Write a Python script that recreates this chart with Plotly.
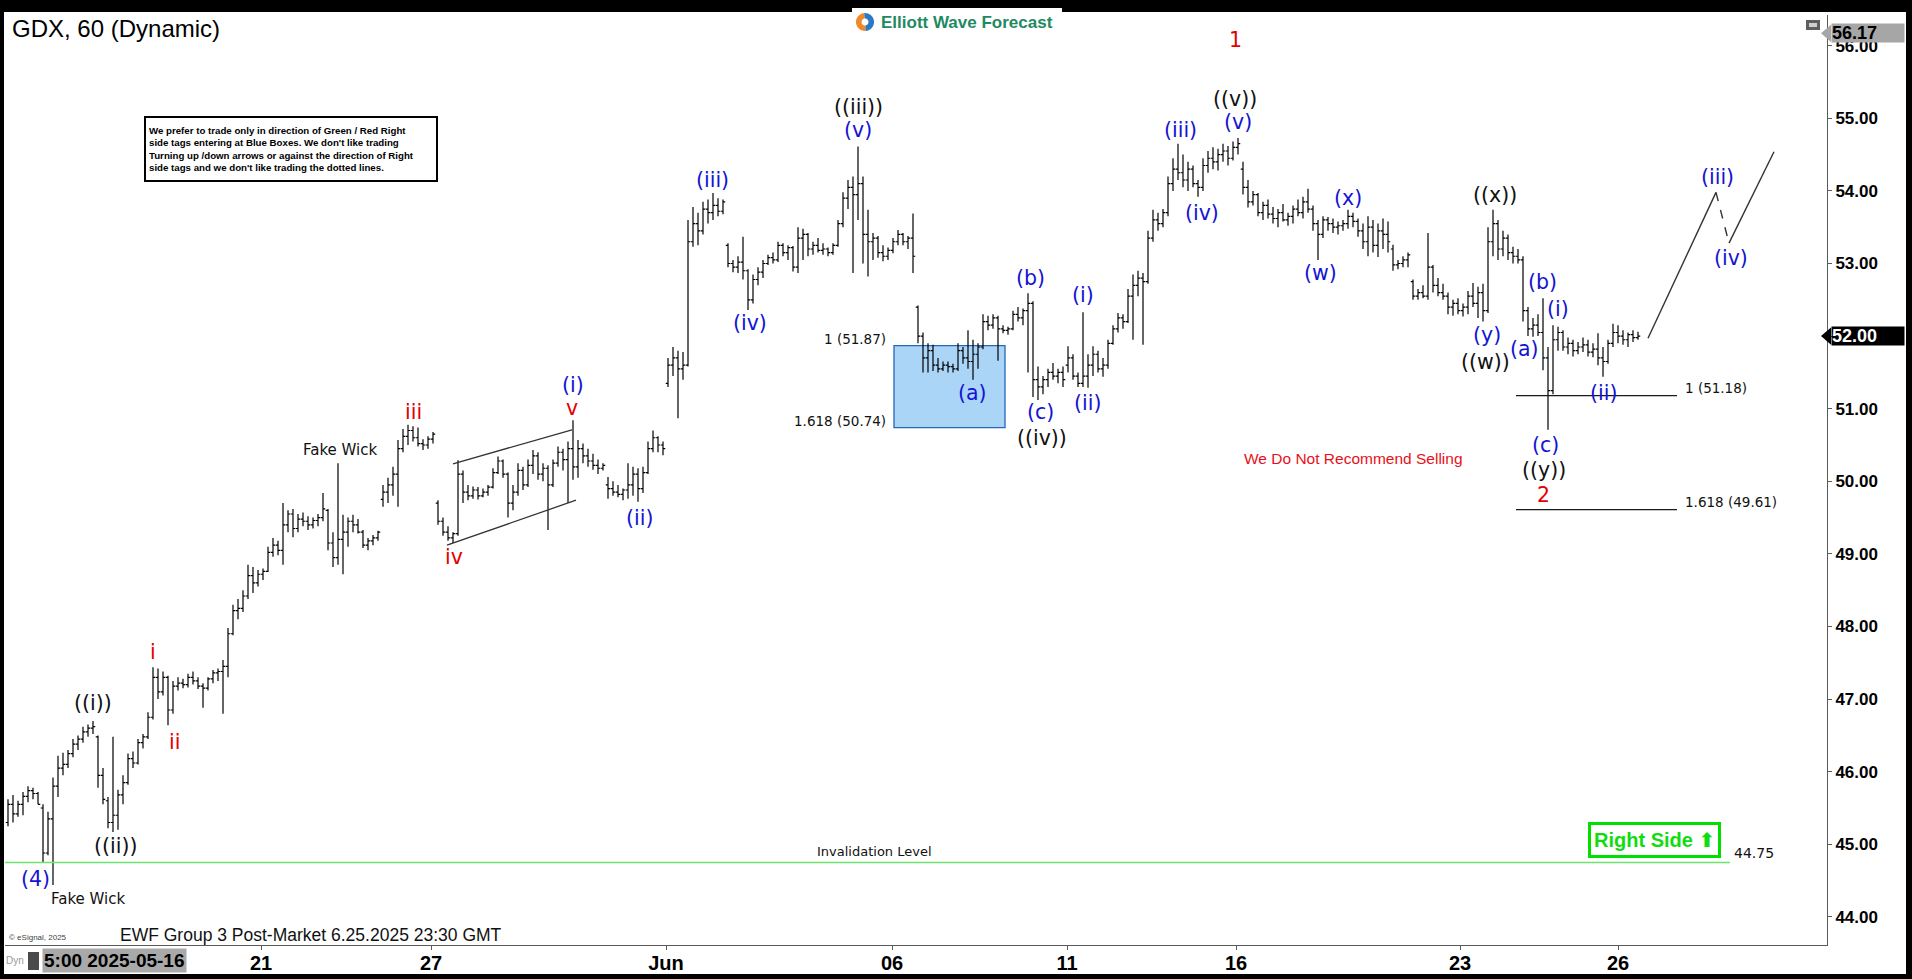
import math
import plotly.graph_objects as go

# ---------------- price data (hourly bars) ----------------
open_ = [
    45.30, 45.55, 45.42, 45.55, 45.66, 45.74, 45.70, 45.50, 44.88, 45.35,
    45.80, 46.05, 46.10, 46.25, 46.38, 46.45, 46.55, 46.60, 46.48, 45.95,
    45.60, 45.30, 45.40, 45.68, 45.85, 46.18, 46.12, 46.40, 46.48, 46.75,
    47.30, 47.10, 47.30, 46.85, 47.18, 47.22, 47.20, 47.30, 47.25, 47.18,
    47.15, 47.28, 47.36, 47.38, 47.45, 47.90, 48.22, 48.25, 48.42, 48.70,
    48.60, 48.72, 48.76, 49.02, 49.12, 49.05, 49.40, 49.55, 49.35, 49.48,
    49.45, 49.40, 49.46, 49.50, 49.60, 49.15, 48.95, 49.20, 49.30, 49.45,
    49.40, 49.30, 49.12, 49.18, 49.22, 49.75, 49.85, 49.95, 50.10, 50.45,
    50.62, 50.70, 50.60, 50.52, 50.50, 50.58, 49.70, 49.45, 49.30, 49.22,
    49.28, 50.10, 49.85, 49.80, 49.88, 49.80, 49.85, 49.92, 50.12, 50.28,
    50.10, 49.70, 49.85, 50.15, 49.95, 50.22, 50.35, 50.10, 50.18, 49.95,
    50.25, 50.40, 50.30, 50.45, 50.20, 50.45, 50.35, 50.28, 50.22, 50.18,
    49.95, 49.90, 49.85, 49.82, 49.88, 49.95, 50.10, 49.90, 50.12, 50.45,
    50.60, 50.50, 51.35, 51.60, 51.70, 51.55, 51.60, 53.30, 53.55, 53.45,
    53.75, 53.70, 53.80, 53.72, 53.25, 53.00, 52.95, 53.02, 52.90, 52.50,
    52.78, 52.88, 53.00, 53.08, 53.05, 53.25, 53.15, 53.22, 52.95, 53.35,
    53.40, 53.20, 53.25, 53.18, 53.20, 53.15, 53.25, 53.55, 53.90, 54.05,
    53.95, 54.10, 53.40, 53.30, 53.35, 53.15, 53.10, 53.18, 53.30, 53.40,
    53.30, 53.35, 52.40, 52.00, 51.70, 51.80, 51.60, 51.55, 51.60, 51.58,
    51.55, 51.80, 51.70, 51.65, 51.75, 51.85, 52.20, 52.15, 52.25, 52.10,
    52.08, 52.10, 52.30, 52.25, 52.35, 52.45, 51.40, 51.30, 51.40, 51.50,
    51.45, 51.50, 51.60, 51.70, 51.45, 51.35, 51.45, 51.60, 51.75, 51.55,
    51.60, 51.90, 52.10, 52.25, 52.20, 52.55, 52.70, 52.80, 52.75, 53.35,
    53.60, 53.55, 53.70, 54.10, 54.30, 54.25, 54.15, 54.30, 54.10, 54.05,
    54.35, 54.45, 54.40, 54.50, 54.55, 54.45, 54.60, 54.30, 54.05, 53.85,
    53.95, 53.70, 53.80, 53.68, 53.62, 53.70, 53.60, 53.65, 53.75, 53.70,
    53.85, 53.75, 53.55, 53.40, 53.60, 53.55, 53.50, 53.52, 53.55, 53.65,
    53.58, 53.45, 53.30, 53.50, 53.25, 53.45, 53.40, 53.20, 52.98, 53.00,
    53.05, 52.75, 52.55, 52.60, 52.55, 52.95, 52.70, 52.60, 52.55, 52.40,
    52.45, 52.35, 52.40, 52.55, 52.45, 52.60, 52.35, 53.30, 53.55, 53.20,
    53.35, 53.15, 53.10, 53.05, 52.35, 52.10, 52.15, 52.05, 51.70, 51.25,
    51.95, 52.05, 51.85, 51.90, 51.80, 51.85, 51.88, 51.78, 51.82, 51.70,
    51.65, 51.90, 52.05, 52.00, 51.95, 52.02, 51.98,
]
high = [
    45.62, 45.68, 45.60, 45.72, 45.80, 45.78, 45.72, 45.55, 45.45, 45.92,
    46.22, 46.26, 46.30, 46.45, 46.50, 46.62, 46.65, 46.70, 46.50, 46.05,
    45.65, 46.48, 45.75, 45.95, 46.25, 46.28, 46.45, 46.52, 46.82, 47.44,
    47.42, 47.38, 47.32, 47.25, 47.30, 47.28, 47.35, 47.38, 47.30, 47.22,
    47.30, 47.40, 47.42, 47.54, 47.98, 48.30, 48.38, 48.50, 48.85, 48.82,
    48.78, 48.80, 49.10, 49.22, 49.18, 49.70, 49.60, 49.62, 49.55, 49.57,
    49.52, 49.50, 49.55, 49.84, 49.62, 49.30, 50.25, 49.54, 49.50, 49.54,
    49.48, 49.33, 49.22, 49.26, 49.32, 49.95, 50.05, 50.20, 50.57, 50.72,
    50.78, 50.76, 50.74, 50.58, 50.62, 50.68, 49.74, 49.50, 49.38, 49.30,
    50.29, 50.15, 49.95, 49.93, 49.92, 49.90, 49.95, 50.18, 50.34, 50.30,
    50.12, 49.95, 50.25, 50.20, 50.30, 50.43, 50.40, 50.25, 50.22, 50.30,
    50.48, 50.45, 50.55, 50.84, 50.57, 50.52, 50.45, 50.38, 50.30, 50.25,
    50.06, 50.00, 49.95, 49.90, 50.25, 50.20, 50.18, 50.20, 50.55, 50.70,
    50.62, 50.55, 51.70, 51.85, 51.80, 51.78, 53.60, 53.78, 53.70, 53.85,
    53.88, 53.97, 53.90, 53.88, 53.28, 53.05, 53.10, 53.37, 52.92, 52.85,
    52.95, 53.05, 53.12, 53.15, 53.30, 53.28, 53.25, 53.24, 53.50, 53.48,
    53.42, 53.30, 53.35, 53.28, 53.22, 53.28, 53.60, 53.98, 54.15, 54.20,
    54.61, 54.20, 53.74, 53.42, 53.38, 53.25, 53.22, 53.35, 53.46, 53.42,
    53.38, 53.69, 52.42, 52.05, 51.90, 51.88, 51.70, 51.65, 51.65, 51.62,
    51.90, 51.85, 52.08, 51.95, 51.90, 52.30, 52.28, 52.30, 52.28, 52.15,
    52.13, 52.35, 52.40, 52.38, 52.59, 52.48, 51.58, 51.45, 51.55, 51.63,
    51.55, 51.58, 51.86, 51.75, 51.50, 52.33, 51.75, 51.86, 51.80, 51.70,
    51.95, 52.15, 52.32, 52.30, 52.65, 52.85, 52.90, 52.87, 53.45, 53.74,
    53.70, 53.75, 54.20, 54.45, 54.65, 54.50, 54.40, 54.35, 54.15, 54.45,
    54.55, 54.60, 54.58, 54.65, 54.62, 54.68, 54.73, 54.40, 54.15, 54.00,
    53.97, 53.85, 53.88, 53.78, 53.75, 53.82, 53.70, 53.80, 53.88, 53.92,
    54.03, 53.80, 53.60, 53.65, 53.64, 53.62, 53.58, 53.60, 53.74, 53.70,
    53.62, 53.55, 53.65, 53.60, 53.55, 53.62, 53.58, 53.26, 53.05, 53.10,
    53.15, 52.78, 52.65, 52.70, 53.42, 52.98, 52.80, 52.72, 52.60, 52.50,
    52.52, 52.45, 52.62, 52.73, 52.68, 52.72, 53.50, 53.74, 53.60, 53.45,
    53.40, 53.23, 53.20, 53.10, 52.40, 52.25, 52.30, 52.52, 51.85, 52.15,
    52.13, 52.08, 51.98, 51.95, 51.92, 51.98, 51.95, 51.90, 52.04, 51.85,
    51.95, 52.17, 52.15, 52.08, 52.05, 52.08, 52.06,
]
low = [
    45.25, 45.30, 45.38, 45.40, 45.58, 45.62, 45.55, 44.75, 44.85, 44.44,
    45.65, 45.95, 46.05, 46.20, 46.30, 46.40, 46.48, 46.52, 45.78, 45.55,
    45.22, 45.17, 45.20, 45.55, 45.82, 46.05, 46.10, 46.32, 46.45, 46.72,
    47.00, 47.05, 46.64, 46.80, 47.12, 47.15, 47.16, 47.20, 47.14, 46.88,
    47.12, 47.22, 47.25, 46.80, 47.30, 47.88, 48.10, 48.20, 48.38, 48.46,
    48.55, 48.64, 48.75, 48.96, 48.98, 48.85, 49.30, 49.23, 49.30, 49.38,
    49.33, 49.35, 49.38, 49.45, 49.05, 48.82, 48.85, 48.72, 49.10, 49.30,
    49.28, 49.08, 49.05, 49.12, 49.18, 49.65, 49.70, 49.80, 49.65, 50.40,
    50.50, 50.55, 50.48, 50.43, 50.45, 50.52, 49.40, 49.25, 49.18, 49.15,
    49.25, 49.70, 49.74, 49.76, 49.75, 49.78, 49.80, 49.90, 50.10, 50.05,
    49.50, 49.60, 49.80, 49.88, 49.92, 50.10, 50.02, 50.00, 49.33, 49.92,
    50.20, 50.15, 49.70, 50.02, 50.05, 50.25, 50.20, 50.16, 50.10, 50.15,
    49.76, 49.80, 49.78, 49.74, 49.76, 49.80, 49.72, 49.84, 50.10, 50.40,
    50.40, 50.36, 51.30, 51.45, 50.87, 51.40, 51.58, 53.23, 53.25, 53.40,
    53.55, 53.60, 53.65, 53.68, 52.95, 52.88, 52.87, 52.78, 52.36, 52.45,
    52.70, 52.80, 52.98, 53.00, 53.02, 53.10, 53.05, 52.89, 52.87, 53.05,
    53.10, 53.12, 53.15, 53.12, 53.10, 53.12, 53.23, 53.50, 53.75, 52.87,
    53.60, 53.00, 52.82, 53.05, 53.08, 53.03, 53.05, 53.14, 53.25, 53.25,
    53.20, 52.87, 51.90, 51.50, 51.50, 51.52, 51.50, 51.52, 51.50, 51.50,
    51.52, 51.62, 51.55, 51.40, 51.55, 51.82, 52.08, 52.10, 51.66, 52.04,
    52.02, 52.08, 52.20, 52.15, 51.50, 51.16, 51.12, 51.20, 51.30, 51.40,
    51.35, 51.30, 51.50, 51.40, 51.30, 51.30, 51.29, 51.45, 51.50, 51.44,
    51.55, 51.88, 52.05, 52.10, 52.18, 51.95, 52.55, 51.88, 52.72, 53.30,
    53.45, 53.50, 53.65, 54.00, 54.15, 54.05, 54.00, 54.05, 53.92, 54.00,
    54.25, 54.30, 54.28, 54.40, 54.35, 54.42, 54.50, 53.95, 53.77, 53.80,
    53.65, 53.60, 53.62, 53.55, 53.50, 53.58, 53.52, 53.55, 53.65, 53.62,
    53.70, 53.45, 53.05, 53.35, 53.45, 53.42, 53.40, 53.45, 53.48, 53.50,
    53.37, 53.20, 53.10, 53.15, 53.09, 53.20, 53.15, 52.90, 52.92, 52.95,
    52.95, 52.50, 52.50, 52.52, 52.50, 52.60, 52.55, 52.50, 52.30, 52.28,
    52.30, 52.27, 52.30, 52.40, 52.25, 52.20, 52.32, 53.10, 53.05, 53.10,
    53.05, 53.00, 53.00, 52.20, 52.00, 51.99, 52.00, 51.53, 50.71, 51.20,
    51.80, 51.80, 51.75, 51.72, 51.75, 51.78, 51.72, 51.71, 51.60, 51.44,
    51.62, 51.85, 51.90, 51.88, 51.85, 51.92, 51.95,
]
close = [
    45.55, 45.42, 45.55, 45.66, 45.74, 45.70, 45.55, 44.88, 45.35, 45.80,
    46.05, 46.10, 46.25, 46.38, 46.45, 46.55, 46.60, 46.62, 45.95, 45.62,
    45.30, 45.40, 45.68, 45.85, 46.18, 46.12, 46.40, 46.48, 46.75, 47.30,
    47.10, 47.30, 46.85, 47.18, 47.22, 47.20, 47.30, 47.25, 47.18, 47.15,
    47.28, 47.36, 47.38, 47.45, 47.90, 48.22, 48.25, 48.42, 48.70, 48.60,
    48.72, 48.76, 49.02, 49.12, 49.05, 49.40, 49.55, 49.35, 49.48, 49.45,
    49.40, 49.46, 49.50, 49.62, 49.15, 48.95, 49.20, 49.30, 49.45, 49.40,
    49.30, 49.12, 49.18, 49.22, 49.30, 49.85, 49.95, 50.10, 50.45, 50.62,
    50.70, 50.60, 50.52, 50.50, 50.58, 50.65, 49.45, 49.30, 49.22, 49.28,
    50.10, 49.85, 49.80, 49.88, 49.80, 49.85, 49.92, 50.12, 50.28, 50.10,
    49.70, 49.85, 50.15, 49.95, 50.22, 50.35, 50.10, 50.18, 49.95, 50.25,
    50.40, 50.30, 50.45, 50.20, 50.45, 50.35, 50.28, 50.22, 50.18, 50.22,
    49.90, 49.85, 49.82, 49.88, 49.95, 50.10, 49.90, 50.12, 50.45, 50.60,
    50.50, 50.45, 51.60, 51.70, 51.55, 51.60, 53.30, 53.55, 53.45, 53.75,
    53.70, 53.80, 53.72, 53.85, 53.00, 52.95, 53.02, 52.90, 52.50, 52.78,
    52.88, 53.00, 53.08, 53.05, 53.25, 53.15, 53.22, 52.95, 53.35, 53.40,
    53.20, 53.25, 53.18, 53.20, 53.15, 53.25, 53.55, 53.90, 54.05, 53.95,
    54.10, 53.40, 53.30, 53.35, 53.15, 53.10, 53.18, 53.30, 53.40, 53.30,
    53.35, 53.10, 52.00, 51.70, 51.80, 51.60, 51.55, 51.60, 51.58, 51.55,
    51.80, 51.70, 51.65, 51.75, 51.85, 52.20, 52.15, 52.25, 52.10, 52.08,
    52.10, 52.30, 52.25, 52.35, 52.45, 51.40, 51.30, 51.40, 51.50, 51.45,
    51.50, 51.40, 51.70, 51.45, 51.35, 51.45, 51.60, 51.75, 51.55, 51.60,
    51.90, 52.10, 52.25, 52.20, 52.55, 52.70, 52.80, 52.75, 53.35, 53.60,
    53.55, 53.70, 54.10, 54.30, 54.25, 54.15, 54.30, 54.10, 54.05, 54.35,
    54.45, 54.40, 54.50, 54.55, 54.45, 54.60, 54.65, 54.05, 53.85, 53.95,
    53.70, 53.80, 53.68, 53.62, 53.70, 53.60, 53.65, 53.75, 53.70, 53.85,
    53.75, 53.55, 53.40, 53.60, 53.55, 53.50, 53.52, 53.55, 53.65, 53.58,
    53.45, 53.30, 53.50, 53.25, 53.45, 53.40, 53.30, 52.98, 53.00, 53.05,
    53.12, 52.55, 52.60, 52.55, 52.95, 52.70, 52.60, 52.55, 52.40, 52.45,
    52.35, 52.40, 52.55, 52.45, 52.60, 52.35, 53.30, 53.55, 53.20, 53.35,
    53.15, 53.10, 53.05, 52.35, 52.10, 52.15, 52.05, 51.70, 51.25, 51.95,
    52.05, 51.85, 51.90, 51.80, 51.85, 51.88, 51.78, 51.82, 51.70, 51.65,
    51.90, 52.05, 52.00, 51.95, 52.02, 51.98, 52.00,
]
bar_index = list(range(len(close)))

# x-axis ticks (bar positions of the session starts) and labels
x_tick_pos = [50.6, 84.6, 131.6, 176.8, 211.8, 245.6, 290.4, 322.0]
x_tick_text = ["21", "27", "Jun", "06", "11", "16", "23", "26"]
first_bar_label = "5:00 2025-05-16"
y_tick_vals = [44, 45, 46, 47, 48, 49, 50, 51, 52, 53, 54, 55, 56]

last_price = 52.00
top_marker_price = 56.17

invalidation_level = 44.75
invalidation_x = [-0.6, 344.4]

box_levels = [50.74, 51.87]
box_x = [177.2, 199.4]
box_text = ["1.618 (50.74)", "1 (51.87)"]

target_levels = [51.18, 49.61]
target_x = [301.6, 333.8]
target_text = ["1 (51.18)", "1.618 (49.61)"]

channel_top_x = [89.0, 112.8]
channel_top_y = [50.24, 50.71]
channel_bot_x = [87.8, 113.6]
channel_bot_y = [49.12, 49.74]

path_x = [328.0, 341.6, 344.2, 353.2]
path_y = [51.97, 53.98, 53.28, 54.54]

BLUE = "#1414d2"
RED = "#e40000"
BLK = "#111111"
wave_text = ["(4)", "((i))", "((ii))", "i", "ii", "iii", "iv", "v", "(i)", "(ii)",
             "(iii)", "(iv)", "((iii))", "(v)", "(a)", "(b)", "(c)", "((iv))", "(i)", "(ii)",
             "(iii)", "(iv)", "(v)", "((v))", "1", "(w)", "(x)", "(y)", "((w))", "((x))",
             "(a)", "(b)", "(i)", "(ii)", "(c)", "((y))", "2", "(iii)", "(iv)"]
wave_x = [5.4, 17.0, 21.4, 29.0, 33.2, 81.0, 89.2, 112.8, 113.0, 126.2,
          140.8, 148.4, 170.0, 170.0, 192.8, 204.4, 206.4, 206.8, 215.0, 215.8,
          234.4, 238.8, 246.0, 245.4, 245.4, 262.4, 268.0, 295.8, 295.4, 297.4,
          303.2, 306.8, 310.0, 319.0, 307.4, 307.2, 307.0, 341.8, 344.6]
wave_y = [44.52, 46.95, 44.97, 47.65, 46.41, 50.95, 48.96, 51.01, 51.33, 49.49,
          54.15, 52.18, 55.16, 54.84, 51.22, 52.80, 50.96, 50.60, 52.57, 51.08,
          54.84, 53.70, 54.95, 55.27, 56.08, 52.87, 53.90, 52.02, 51.65, 53.94,
          51.82, 52.75, 52.38, 51.22, 50.50, 50.16, 49.81, 54.19, 53.08]
wave_color = [BLUE, BLK, BLK, RED, RED, RED, RED, RED, BLUE, BLUE,
              BLUE, BLUE, BLK, BLUE, BLUE, BLUE, BLUE, BLK, BLUE, BLUE,
              BLUE, BLUE, BLUE, BLK, RED, BLUE, BLUE, BLUE, BLK, BLK,
              BLUE, BLUE, BLUE, BLUE, BLUE, BLK, RED, BLUE, BLUE]

fake_wick_x = [16.0, 66.4]
fake_wick_y = [44.25, 50.43]

# ---------------- layout geometry ----------------
W, H = 1912, 979
LM, RM, TM, BM = 5, 85, 15, 34
X_RANGE = [-0.6, 363.8]
Y_RANGE = [43.613, 56.423]


def pxx(p):
    return (p - LM) / (W - LM - RM)


def pxy(p):
    return (H - BM - p) / (H - TM - BM)


NARROW = "Liberation Sans Narrow, Arial Narrow, Liberation Sans, Arial, sans-serif"
ARIAL = "Liberation Sans, Arial, sans-serif"
TAHOMA = "DejaVu Sans, Verdana, sans-serif"

fig = go.Figure()

# invalidation line
fig.add_trace(go.Scatter(x=invalidation_x, y=[invalidation_level] * 2, mode="lines",
                         line=dict(color="#6ee36e", width=1.6), hoverinfo="skip"))
# target fib lines
for lvl in target_levels:
    fig.add_trace(go.Scatter(x=target_x, y=[lvl, lvl], mode="lines",
                             line=dict(color="#1a1a1a", width=1.3), hoverinfo="skip"))
# channel
fig.add_trace(go.Scatter(x=channel_top_x, y=channel_top_y, mode="lines",
                         line=dict(color="#333333", width=1.3), hoverinfo="skip"))
fig.add_trace(go.Scatter(x=channel_bot_x, y=channel_bot_y, mode="lines",
                         line=dict(color="#333333", width=1.3), hoverinfo="skip"))
# projection path
fig.add_trace(go.Scatter(x=path_x[0:2], y=path_y[0:2], mode="lines",
                         line=dict(color="#333333", width=1.4), hoverinfo="skip"))
fig.add_trace(go.Scatter(x=path_x[1:3], y=path_y[1:3], mode="lines",
                         line=dict(color="#333333", width=1.4, dash="dash"), hoverinfo="skip"))
fig.add_trace(go.Scatter(x=path_x[2:4], y=path_y[2:4], mode="lines",
                         line=dict(color="#333333", width=1.4), hoverinfo="skip"))

# price bars
fig.add_trace(go.Ohlc(x=bar_index, open=open_, high=high, low=low, close=close,
                      increasing=dict(line=dict(color="black", width=1.2)),
                      decreasing=dict(line=dict(color="black", width=1.2)),
                      tickwidth=0.45, hoverinfo="skip"))

shapes = []
# blue box
shapes.append(dict(type="rect", xref="x", yref="y", x0=box_x[0], x1=box_x[1],
                   y0=box_levels[0], y1=box_levels[1], fillcolor="#abd5f7",
                   line=dict(color="#2468b8", width=1.3), layer="below"))


def prect(x0, y0, x1, y1, color, layer="above"):
    return dict(type="rect", xref="paper", yref="paper", x0=pxx(x0), x1=pxx(x1),
                y0=pxy(y1), y1=pxy(y0), fillcolor=color,
                line=dict(width=0), layer=layer)


# black frame
shapes.append(prect(0, 0, W, 12, "black"))
shapes.append(prect(0, 0, 4, H, "black"))
shapes.append(prect(1906, 0, W, H, "black"))
shapes.append(prect(0, 974, W, H, "black"))
shapes.append(prect(852, 8, 1062, 13, "white"))
# restore icon
shapes.append(prect(1806, 20, 1820, 30, "#5e5e5e"))
shapes.append(prect(1809, 23, 1817, 27, "#cfcfcf"))
# Dyn icon
shapes.append(prect(28, 952, 39, 970, "#4a4a4a"))


def arc_path(cx, cy, r, a0, a1, n=24):
    pts = []
    for k in range(n + 1):
        a = math.radians(a0 + (a1 - a0) * k / n)
        pts.append((pxx(cx + r * math.cos(a)), pxy(cy - r * math.sin(a))))
    return "M " + " L ".join(f"{x},{y}" for x, y in pts) + " Z"


# logo icon
shapes.append(dict(type="path", xref="paper", yref="paper", path=arc_path(865, 22, 9, 95, 275),
                   fillcolor="#f0892a", line=dict(width=0), layer="above"))
shapes.append(dict(type="path", xref="paper", yref="paper", path=arc_path(865, 22, 9, -85, 95),
                   fillcolor="#2a79c2", line=dict(width=0), layer="above"))
shapes.append(dict(type="path", xref="paper", yref="paper", path=arc_path(865, 22, 3.5, 0, 360),
                   fillcolor="white", line=dict(width=0), layer="above"))

# right-axis price marker pointers
for p, col in [(top_marker_price, "#a6a6a6"), (last_price, "black")]:
    d = 0.12
    shapes.append(dict(type="path", xref="paper", yref="y",
                       path=f"M {pxx(1821)},{p} L {pxx(1831)},{p + d} L {pxx(1831)},{p - d} Z",
                       fillcolor=col, line=dict(width=0), layer="above"))

annotations = []
for t, x, y, c in zip(wave_text, wave_x, wave_y, wave_color):
    annotations.append(dict(x=x, y=y, xref="x", yref="y", text=t, showarrow=False,
                            font=dict(family=TAHOMA, size=20.5, color=c)))

for x, y in zip(fake_wick_x, fake_wick_y):
    annotations.append(dict(x=x, y=y, text="Fake Wick", showarrow=False,
                            font=dict(family=TAHOMA, size=15, color=BLK)))

for lvl, t in zip(box_levels, box_text):
    annotations.append(dict(x=box_x[0] - 1.2, y=lvl + 0.09, text=t, showarrow=False, xanchor="right",
                            font=dict(family=TAHOMA, size=13.5, color=BLK)))
for lvl, t in zip(target_levels, target_text):
    annotations.append(dict(x=target_x[1] + 1.2, y=lvl + 0.1, text=t, showarrow=False, xanchor="left",
                            font=dict(family=TAHOMA, size=13.5, color=BLK)))

annotations.append(dict(x=291.4, y=50.32, text="We Do Not Recommend Selling", showarrow=False,
                        xanchor="right", font=dict(family=NARROW, size=15.5, color="#e8101a")))
annotations.append(dict(x=173.2, y=invalidation_level + 0.15, text="Invalidation Level", showarrow=False,
                        font=dict(family=TAHOMA, size=13, color=BLK)))
annotations.append(dict(x=invalidation_x[1] + 0.4, y=invalidation_level + 0.13, text=f"{invalidation_level:.2f}",
                        showarrow=False, xanchor="left", font=dict(family=TAHOMA, size=14, color=BLK)))
annotations.append(dict(x=329.2, y=45.06,
                        text='Right Side <span style="font-family:DejaVu Sans">⬆</span>',
                        showarrow=False, bgcolor="white", bordercolor="#00e000", borderwidth=3,
                        borderpad=3, font=dict(family=NARROW, size=20, color="#10dd10", weight="bold")))


def paper_text(x, y, text, font, **kw):
    d = dict(xref="paper", yref="paper", x=pxx(x), y=pxy(y), xanchor="left", yanchor="middle",
             text=text, showarrow=False, font=font)
    d.update(kw)
    return d


# title / logo / footer texts
annotations.append(paper_text(10, 29, "GDX, 60 (Dynamic)",
                              dict(family=ARIAL, size=24, color="black")))
annotations.append(paper_text(879, 22, "Elliott Wave Forecast",
                              dict(family=ARIAL, size=17, color="#1f8a62", weight="bold")))
annotations.append(paper_text(144, 116,
                              ("We prefer to trade only in direction of Green / Red Right<br>"
                               "side tags entering at Blue Boxes. We don't like trading<br>"
                               "Turning up /down arrows or against the direction of Right<br>"
                               "side tags and we don't like trading the dotted lines."),
                              dict(family=NARROW, size=9.7, color="black", weight="bold"),
                              yanchor="top", align="left", bgcolor="white", bordercolor="black",
                              borderwidth=2, borderpad=3, width=284, height=56))
annotations.append(paper_text(118, 935, "EWF Group 3 Post-Market 6.25.2025 23:30 GMT",
                              dict(family=NARROW, size=17.5, color=BLK)))
annotations.append(paper_text(7, 937, "© eSignal, 2025",
                              dict(family=NARROW, size=8, color="#444")))
annotations.append(paper_text(4, 961, "Dyn", dict(family=ARIAL, size=10, color="#9a9a9a")))
annotations.append(paper_text(42, 961, first_bar_label,
                              dict(family=NARROW, size=19, color="black", weight="bold"),
                              bgcolor="#a9a9a9", borderpad=1))

# right-axis markers
for p, bg, fc in [(top_marker_price, "#a6a6a6", "black"), (last_price, "black", "white")]:
    annotations.append(dict(xref="paper", yref="y", x=pxx(1831), y=p, xanchor="left", yanchor="middle",
                            text=f"{p:.2f}", showarrow=False, bgcolor=bg, width=72, height=18,
                            align="left", borderpad=0,
                            font=dict(family=ARIAL, size=18, color=fc, weight="bold")))

fig.update_layout(
    width=W, height=H,
    margin=dict(l=LM, r=RM, t=TM, b=BM),
    paper_bgcolor="white", plot_bgcolor="white",
    showlegend=False,
    shapes=shapes, annotations=annotations,
    xaxis=dict(range=X_RANGE, showgrid=False, zeroline=False, showline=True, automargin=False,
               linecolor="#5a5a5a", linewidth=1, ticks="outside", ticklen=4, tickcolor="#5a5a5a",
               ticklabelstandoff=-4,
               tickvals=x_tick_pos, ticktext=x_tick_text, rangeslider=dict(visible=False),
               tickfont=dict(family=NARROW, size=20, color="black", weight="bold")),
    yaxis=dict(range=Y_RANGE, side="right", showgrid=False, zeroline=False, showline=True,
               automargin=False,
               linecolor="#5a5a5a", linewidth=1, ticks="outside", ticklen=4, tickcolor="#5a5a5a",
               tickvals=y_tick_vals, tickformat=".2f",
               tickfont=dict(family=ARIAL, size=17, color="black", weight="bold")),
)

fig.write_html(
    "out.html",
    config={"displayModeBar": False},
    post_script="document.body.style.margin='0px';document.body.style.padding='0px';"
                "document.body.style.overflow='hidden';",
)
